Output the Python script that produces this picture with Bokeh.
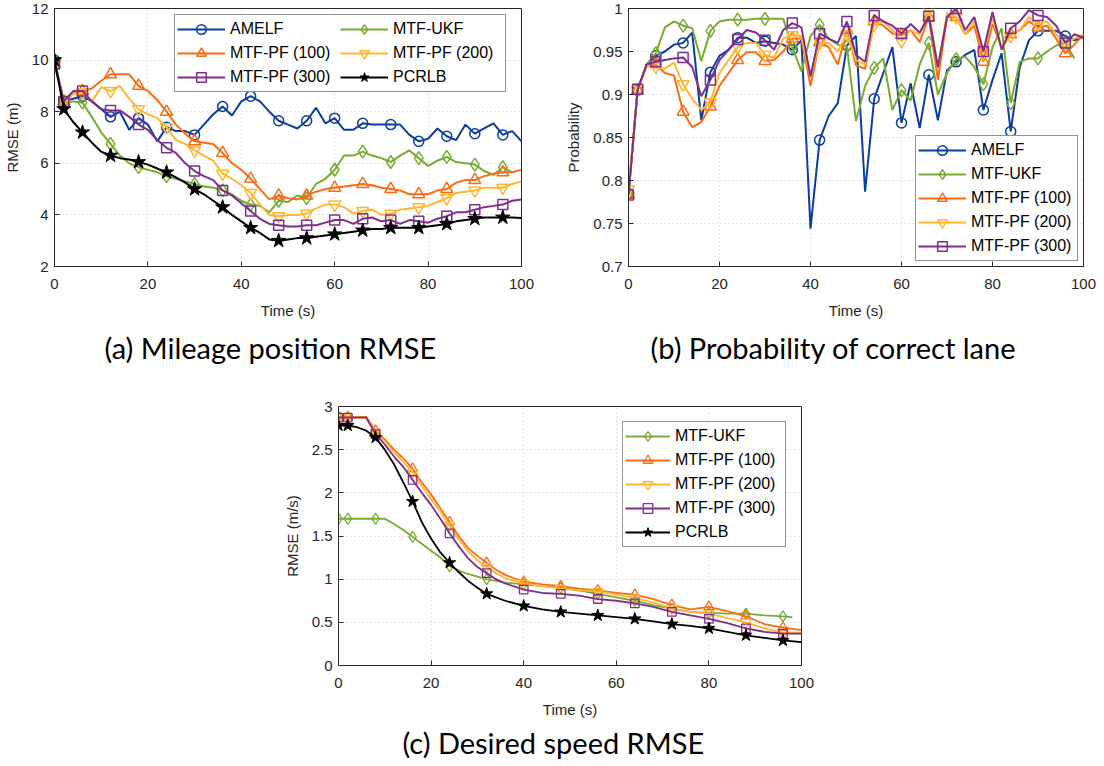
from bokeh.plotting import figure
from bokeh.layouts import column, row
from bokeh.models import Legend, LegendItem, FixedTicker, Range1d, Spacer
from bokeh.embed import file_html
from bokeh.resources import INLINE

# ---------------- data ----------------
T_AB = [0, 2, 4, 6, 8, 10, 12, 14, 16, 18, 20, 22, 24, 26, 28, 30, 32, 34, 36, 38, 40,
        42, 44, 46, 48, 50, 52, 54, 56, 58, 60, 62, 64, 66, 68, 70, 72, 74, 76, 78, 80,
        82, 84, 86, 88, 90, 92, 94, 96, 98, 100]
T_AB_UKF = T_AB[:-1]
MARK_AB = [0, 2, 6, 12, 18, 24, 30, 36, 42, 48, 54, 60, 66, 72, 78, 84, 90, 96]

# (a) mileage position RMSE (m)
A_AMELF = [10, 8.4, 8.5, 8.6, 8.4, 8.1, 7.8, 8.0, 7.3, 7.75, 7.5, 6.85, 7.4, 7.25, 7.25, 7.1,
           7.5, 7.9, 8.2, 7.85, 8.4, 8.6, 8.4, 8.0, 7.65, 7.5, 7.35, 7.65, 8.15, 7.55, 7.75,
           7.3, 7.3, 7.55, 7.5, 7.5, 7.5, 7.5, 7.1, 6.85, 6.95, 7.35, 7.05, 6.9, 7.5, 7.15,
           7.35, 7.55, 7.1, 7.25, 6.85]
A_UKF = [10, 8.3, 8.4, 8.35, 7.8, 7.2, 6.75, 6.3, 6.0, 5.85, 5.75, 5.65, 5.5, 5.4, 5.3, 5.2,
         5.1, 5.05, 4.95, 4.8, 4.55, 4.4, 4.35, 4.1, 4.55, 4.5, 4.75, 4.65, 5.2, 5.4, 5.75,
         6.3, 6.3, 6.45, 6.3, 6.2, 6.05, 6.3, 6.5, 6.2, 5.9, 6.1, 6.25, 6.05, 6.0, 5.95,
         5.7, 5.55, 5.85, 5.65]
A_PF100 = [9.85, 8.4, 8.7, 8.8, 8.9, 9.2, 9.45, 9.45, 9.45, 9.0, 8.8, 8.45, 8.0, 7.5, 7.15,
           6.85, 6.8, 6.75, 6.4, 6.0, 5.75, 5.4, 5.0, 4.6, 4.75, 4.65, 4.6, 4.75, 4.9, 5.0,
           5.05, 5.1, 5.15, 5.2, 5.15, 5.05, 5.0, 4.95, 4.8, 4.8, 4.8, 4.95, 5.0, 5.25, 5.35,
           5.35, 5.5, 5.6, 5.65, 5.65, 5.75]
A_PF200 = [9.85, 8.3, 8.7, 8.75, 8.4, 8.95, 8.8, 9.0, 8.5, 8.1, 7.9, 7.75, 7.4, 6.9, 6.75,
           6.5, 6.3, 6.1, 5.6, 5.4, 5.15, 4.85, 4.4, 4.0, 3.95, 4.0, 4.0, 4.05, 4.25, 4.4,
           4.4, 4.3, 4.05, 4.15, 4.2, 4.0, 4.05, 4.2, 4.25, 4.3, 4.35, 4.5, 4.65, 4.85, 4.9,
           4.95, 5.05, 5.05, 5.05, 5.2, 5.3]
A_PF300 = [9.85, 8.4, 8.8, 8.8, 8.4, 8.1, 8.05, 8.05, 7.8, 7.5, 7.3, 6.9, 6.6, 6.4, 6.0,
           5.7, 5.5, 5.35, 4.95, 4.75, 4.45, 4.15, 3.85, 3.65, 3.6, 3.55, 3.55, 3.6, 3.6,
           3.7, 3.8, 3.8, 3.65, 3.85, 3.9, 3.75, 3.8, 3.65, 3.8, 3.75, 3.7, 3.85, 3.95, 4.1,
           4.1, 4.2, 4.3, 4.35, 4.4, 4.55, 4.6]
A_PCRLB = [10, 8.1, 7.6, 7.2, 6.8, 6.45, 6.3, 6.2, 6.15, 6.05, 5.95, 5.8, 5.65, 5.45, 5.25,
           5.0, 4.8, 4.55, 4.3, 4.0, 3.75, 3.5, 3.3, 3.05, 3.0, 3.05, 3.1, 3.1, 3.15, 3.2,
           3.25, 3.3, 3.35, 3.4, 3.45, 3.45, 3.5, 3.5, 3.5, 3.5, 3.55, 3.6, 3.65, 3.75, 3.8,
           3.85, 3.9, 3.9, 3.9, 3.9, 3.88]

# (b) probability of correct lane
B_AMELF = [0.785, 0.905, 0.935, 0.945, 0.95, 0.958, 0.96, 0.972, 0.87, 0.926, 0.945, 0.952,
           0.966, 0.966, 0.96, 0.962, 0.96, 0.958, 0.952, 0.963, 0.744, 0.847, 0.875, 0.89,
           0.957, 0.968, 0.787, 0.895, 0.925, 0.955, 0.867, 0.913, 0.861, 0.923, 0.87, 0.928,
           0.938, 0.946, 0.952, 0.882, 0.917, 0.948, 0.857, 0.932, 0.963, 0.974, 0.974, 0.974,
           0.968, 0.963, 0.967]
B_UKF = [0.785, 0.905, 0.935, 0.948, 0.978, 0.985, 0.98, 0.977, 0.939, 0.974, 0.985, 0.987,
         0.987, 0.987, 0.988, 0.988, 0.988, 0.988, 0.955, 0.927, 0.968, 0.981, 0.965, 0.958,
         0.956, 0.869, 0.91, 0.931, 0.942, 0.882, 0.905, 0.893, 0.935, 0.96, 0.9, 0.925,
         0.941, 0.944, 0.932, 0.912, 0.955, 0.977, 0.89, 0.938, 0.942, 0.942, 0.95, 0.957,
         0.96, 0.942]
B_PF100 = [0.783, 0.905, 0.933, 0.935, 0.925, 0.922, 0.88, 0.862, 0.868, 0.886, 0.91, 0.925,
           0.94, 0.949, 0.949, 0.939, 0.94, 0.95, 0.965, 0.965, 0.91, 0.961, 0.955, 0.935,
           0.975, 0.934, 0.93, 0.985, 0.98, 0.971, 0.969, 0.975, 0.961, 0.99, 0.917, 0.99,
           0.99, 0.97, 0.98, 0.938, 0.982, 0.955, 0.97, 0.975, 0.985, 0.978, 0.98, 0.965,
           0.948, 0.958, 0.97]
B_PF200 = [0.79, 0.905, 0.933, 0.932, 0.93, 0.937, 0.912, 0.895, 0.882, 0.891, 0.925, 0.94,
           0.955, 0.96, 0.96, 0.946, 0.943, 0.965, 0.969, 0.968, 0.92, 0.96, 0.96, 0.95,
           0.97, 0.94, 0.935, 0.981, 0.985, 0.975, 0.962, 0.975, 0.97, 0.998, 0.93, 0.995,
           0.99, 0.97, 0.985, 0.948, 0.99, 0.955, 0.968, 0.975, 0.99, 0.982, 0.985, 0.97,
           0.959, 0.965, 0.97]
B_PF300 = [0.783, 0.906, 0.935, 0.938, 0.94, 0.942, 0.943, 0.932, 0.898, 0.917, 0.94, 0.952,
           0.964, 0.975, 0.972, 0.963, 0.952, 0.975, 0.983, 0.978, 0.921, 0.971, 0.965, 0.96,
           0.985, 0.946, 0.938, 0.992, 0.985, 0.98, 0.971, 0.982, 0.972, 0.991, 0.932, 0.99,
           1.0, 0.975, 0.99, 0.95, 0.996, 0.952, 0.977, 0.985, 0.998, 0.992, 0.99, 0.98,
           0.96, 0.97, 0.966]

# (c) desired speed RMSE (m/s)
T_C = [0, 2, 4, 6, 8, 10, 12, 14, 16, 18, 20, 22, 24, 26, 28, 30, 32, 34, 36, 40, 44, 48,
       52, 56, 60, 64, 68, 72, 76, 80, 84, 88, 92, 96, 100]
T_C_UKF = [0, 2, 4, 6, 8, 10, 12, 14, 16, 18, 20, 22, 24, 26, 28, 30, 32, 34, 36, 40, 44, 48,
           52, 56, 60, 64, 68, 72, 76, 80, 84, 88, 92, 96, 98]
MARK_C = [0, 2, 8, 16, 24, 32, 40, 48, 56, 64, 72, 80, 88, 96]
C_UKF = [1.7, 1.7, 1.7, 1.7, 1.7, 1.7, 1.64, 1.57, 1.49, 1.41, 1.33, 1.25, 1.15, 1.1, 1.06,
         1.03, 1.0, 0.98, 0.96, 0.94, 0.92, 0.9, 0.87, 0.83, 0.79, 0.75, 0.7, 0.66, 0.62,
         0.61, 0.6, 0.6, 0.58, 0.57, 0.56]
C_PF100 = [2.88, 2.88, 2.88, 2.88, 2.72, 2.62, 2.5, 2.4, 2.28, 2.12, 1.98, 1.82, 1.66, 1.5,
           1.36, 1.27, 1.19, 1.11, 1.05, 0.97, 0.94, 0.92, 0.89, 0.87, 0.84, 0.82, 0.77, 0.7,
           0.65, 0.68, 0.63, 0.57, 0.48, 0.44, 0.41]
C_PF200 = [2.87, 2.87, 2.87, 2.87, 2.7, 2.6, 2.47, 2.36, 2.24, 2.08, 1.93, 1.78, 1.62, 1.46,
           1.32, 1.22, 1.14, 1.07, 1.01, 0.95, 0.92, 0.89, 0.87, 0.86, 0.82, 0.78, 0.73, 0.66,
           0.62, 0.6, 0.55, 0.5, 0.43, 0.38, 0.38]
C_PF300 = [2.87, 2.87, 2.87, 2.87, 2.68, 2.56, 2.42, 2.3, 2.15, 2.0, 1.86, 1.7, 1.53, 1.38,
           1.24, 1.14, 1.07, 1.0, 0.95, 0.88, 0.84, 0.83, 0.81, 0.77, 0.75, 0.72, 0.68, 0.62,
           0.58, 0.54, 0.49, 0.43, 0.39, 0.37, 0.37]
C_PCRLB = [2.78, 2.78, 2.76, 2.72, 2.64, 2.5, 2.33, 2.12, 1.9, 1.66, 1.47, 1.31, 1.19, 1.08,
           0.98, 0.9, 0.83, 0.79, 0.75, 0.69, 0.65, 0.62, 0.6, 0.58, 0.56, 0.54, 0.51, 0.48,
           0.46, 0.43, 0.39, 0.35, 0.32, 0.29, 0.27]

X_TICKS = [0, 20, 40, 60, 80, 100]
X_LABELS = ["0", "20", "40", "60", "80", "100"]
YA_TICKS = [2, 4, 6, 8, 10, 12]
YA_LABELS = ["2", "4", "6", "8", "10", "12"]
YB_TICKS = [0.7, 0.75, 0.8, 0.85, 0.9, 0.95, 1.0]
YB_LABELS = ["0.7", "0.75", "0.8", "0.85", "0.9", "0.95", "1"]
YC_TICKS = [0, 0.5, 1.0, 1.5, 2.0, 2.5, 3.0]
YC_LABELS = ["0", "0.5", "1", "1.5", "2", "2.5", "3"]

NAMES = ["AMELF", "MTF-UKF", "MTF-PF (100)", "MTF-PF (200)", "MTF-PF (300)", "PCRLB"]
COLORS = {"AMELF": "#0B3D9E", "MTF-UKF": "#77AC30", "MTF-PF (100)": "#FF6A13",
          "MTF-PF (200)": "#FFB630", "MTF-PF (300)": "#7E2F8E", "PCRLB": "#000000"}
MARKERS = {"AMELF": "circle", "MTF-UKF": "diamond", "MTF-PF (100)": "triangle",
           "MTF-PF (200)": "inverted_triangle", "MTF-PF (300)": "square", "PCRLB": "star"}
MSIZE = {"circle": 10, "diamond": 13, "triangle": 12, "inverted_triangle": 12,
         "square": 10, "star": 15}

FONT = "Liberation Sans"
CAP_FONT = "Lato"
AXC = "#262626"


def make_fig(ml, mt, fw, fh, mr, mb, yr, yticks, ylabels, ylabel, caption, cap_off, cap_gap):
    p = figure(frame_width=fw, frame_height=fh, min_border_left=ml, min_border_top=mt,
               min_border_right=mr, min_border_bottom=mb,
               x_range=Range1d(0, 100), y_range=Range1d(*yr),
               output_backend="svg", toolbar_location=None,
               title=caption, title_location="below")
    p.background_fill_color = "white"
    p.border_fill_color = "white"
    p.outline_line_color = AXC
    p.outline_line_width = 1
    p.title.align = "left"
    p.title.offset = cap_off
    p.title.text_font = CAP_FONT
    p.title.text_font_size = "29px"
    p.title.text_font_style = "normal"
    p.title.text_color = "black"
    p.title.standoff = cap_gap
    p.xaxis.ticker = FixedTicker(ticks=X_TICKS)
    p.xaxis.major_label_overrides = dict(zip(X_TICKS, X_LABELS))
    p.yaxis.ticker = FixedTicker(ticks=yticks)
    p.yaxis.major_label_overrides = dict(zip(yticks, ylabels))
    p.xaxis.axis_label = "Time (s)"
    p.yaxis.axis_label = ylabel
    for ax in (p.xaxis[0], p.yaxis[0]):
        ax.axis_line_color = AXC
        ax.major_tick_line_color = AXC
        ax.major_tick_in = 5
        ax.major_tick_out = 0
        ax.minor_tick_in = 0
        ax.minor_tick_out = 0
        ax.major_label_text_font = FONT
        ax.major_label_text_font_size = "15px"
        ax.major_label_text_color = AXC
        ax.axis_label_text_font = FONT
        ax.axis_label_text_font_size = "15px"
        ax.axis_label_text_font_style = "normal"
        ax.axis_label_text_color = AXC
    p.xaxis.major_label_standoff = 12
    p.xaxis.axis_label_standoff = 10
    p.yaxis.major_label_standoff = 6
    p.yaxis.axis_label_standoff = 8
    p.grid.grid_line_color = "#c8c8c8"
    p.grid.grid_line_dash = "1 3"
    p.grid.grid_line_width = 1
    return p


def add_series(p, name, ts, vs, marks, lw, mlw, scale):
    c = COLORS[name]
    m = MARKERS[name]
    lr = p.line(ts, vs, line_color=c, line_width=lw)
    mt = [t for t in ts if t in marks]
    mv = [v for t, v in zip(ts, vs) if t in marks]
    if m == "star":
        sr = p.scatter(mt, mv, marker=m, size=MSIZE[m] * scale, line_color=c, fill_color=c,
                       line_width=1)
    else:
        sr = p.scatter(mt, mv, marker=m, size=MSIZE[m] * scale, line_color=c, fill_alpha=0,
                       line_width=mlw)
    return LegendItem(label=name, renderers=[lr, sr])


def style_legend(lg, loc, gw, gh, pad, lw):
    lg.location = loc
    lg.border_line_color = AXC
    lg.border_line_width = 1
    lg.background_fill_color = "white"
    lg.background_fill_alpha = 1
    lg.label_text_font = FONT
    lg.label_text_font_size = "16px"
    lg.label_text_color = "black"
    lg.glyph_width = gw
    lg.glyph_height = gh
    lg.label_height = gh
    lg.label_width = lw
    lg.label_standoff = 5
    lg.spacing = 0
    lg.padding = pad
    lg.margin = 0


# ---------------- (a) ----------------
pa = make_fig(53, 8, 467, 258, 40, 109, (2, 12), YA_TICKS, YA_LABELS, "RMSE (m)",
              "(a) Mileage position RMSE", 50, 13)
series_a = {"AMELF": (T_AB, A_AMELF), "MTF-UKF": (T_AB_UKF, A_UKF),
            "MTF-PF (100)": (T_AB, A_PF100), "MTF-PF (200)": (T_AB, A_PF200),
            "MTF-PF (300)": (T_AB, A_PF300), "PCRLB": (T_AB, A_PCRLB)}
items_a = {n: add_series(pa, n, *series_a[n], MARK_AB, 2, 1.5, 1.0) for n in NAMES}
la = Legend(items=[items_a[n] for n in NAMES], orientation="horizontal", ncols=2)
style_legend(la, (120, 174), 48, 24, 2, 110)
pa.add_layout(la)

# ---------------- (b) ----------------
pb = make_fig(67, 8, 455, 258, 22, 109, (0.7, 1.0), YB_TICKS, YB_LABELS, "Probability",
              "(b) Probability of correct lane", 22, 13)
series_b = {"AMELF": (T_AB, B_AMELF), "MTF-UKF": (T_AB_UKF, B_UKF),
            "MTF-PF (100)": (T_AB, B_PF100), "MTF-PF (200)": (T_AB, B_PF200),
            "MTF-PF (300)": (T_AB, B_PF300)}
items_b = [add_series(pb, n, *series_b[n], MARK_AB, 2, 1.5, 1.0) for n in NAMES[:5]]
lb = Legend(items=items_b)
style_legend(lb, (287, 5), 48, 24, 2, 104)
pb.add_layout(lb)

# ---------------- (c) ----------------
pc = make_fig(58, 31, 463, 259, 20, 100, (0, 3), YC_TICKS, YC_LABELS, "RMSE (m/s)",
              "(c) Desired speed RMSE", 64, 5)
series_c = {"MTF-UKF": (T_C_UKF, C_UKF), "MTF-PF (100)": (T_C, C_PF100),
            "MTF-PF (200)": (T_C, C_PF200), "MTF-PF (300)": (T_C, C_PF300),
            "PCRLB": (T_C, C_PCRLB)}
items_c = [add_series(pc, n, *series_c[n], MARK_C, 1.8, 1.3, 0.85) for n in NAMES[1:]]
lc = Legend(items=items_c)
style_legend(lc, (284, 118), 45, 24, 2, 108)
pc.add_layout(lc)

layout = column(row(pa, pb), row(Spacer(width=280, height=10), pc))
open("out.html", "w").write(file_html(layout, INLINE))
